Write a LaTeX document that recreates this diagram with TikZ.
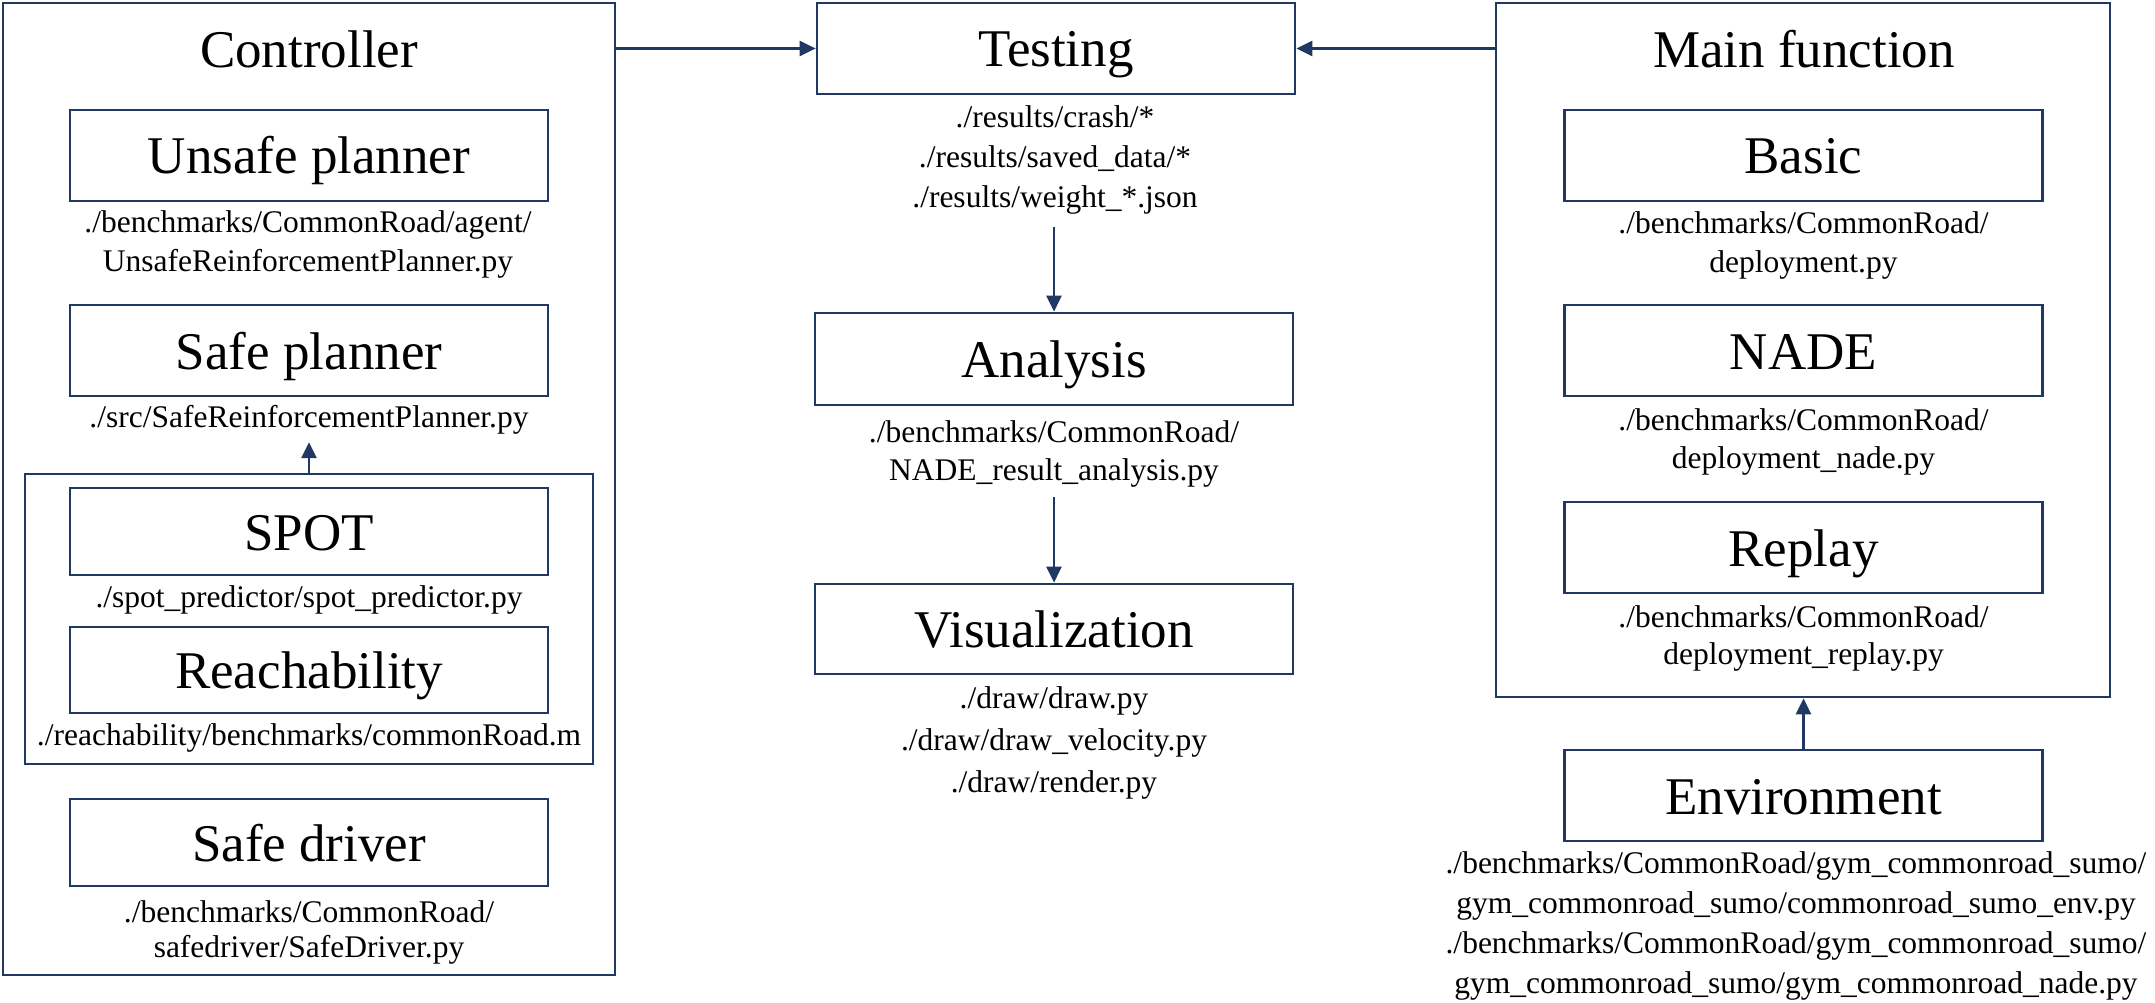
\documentclass[tikz,border=0pt]{standalone}
\usepackage{fontspec}
\setmainfont{Liberation Serif}
\usetikzlibrary{arrows.meta}
\definecolor{navy}{RGB}{32,56,100}
\newcommand\lblstrut{\rule{0pt}{24pt}}
\newcommand\pathfnt[1]{\fontsize{31.5}{#1}\selectfont}
\begin{document}
\begin{tikzpicture}[x=1pt,y=-1pt,
  outerbox/.style={draw=navy, line width=2.7pt, inner sep=0pt},
  mybox/.style={outerbox, minimum width=478pt, minimum height=91pt,
    font=\fontsize{53}{60}\selectfont, text height=37pt, text depth=0pt},
  ttl/.style={font=\fontsize{53}{60}\selectfont, anchor=base, inner sep=0pt},
  plbl/.style={font=\pathfnt{39}, align=center, anchor=north, inner sep=0pt},
  arr/.style={draw=navy, line width=2.7pt, -{Triangle[length=16pt,width=15pt]}}]
\useasboundingbox (0,0) rectangle (2155,1003);

% ---------------- Controller ----------------
\node[outerbox, minimum width=612pt, minimum height=972pt] (ctrl) at (309,489) {};
\node[ttl] (ctrlT) at (309,68) {Controller};
\node[mybox] (unsafe) at (309,155.5) {Unsafe planner};
\node[plbl] (unsafeP) at (308,208) {\lblstrut./benchmarks/CommonRoad/agent/\\UnsafeReinforcementPlanner.py};
\node[mybox] (safe) at (309,350.5) {Safe planner};
\node[plbl] (safeP) at (309,403) {\lblstrut./src/SafeReinforcementPlanner.py};
\node[outerbox, minimum width=568pt, minimum height=290pt] (grp) at (309,619) {};
\node[mybox, minimum height=87pt] (spot) at (309,531.5) {SPOT};
\node[plbl] (spotP) at (309,583) {\lblstrut./spot\_predictor/spot\_predictor.py};
\node[mybox, minimum height=86pt] (reach) at (309,670) {Reachability};
\node[plbl] (reachP) at (309,721) {\lblstrut./reachability/benchmarks/commonRoad.m};
\node[mybox, minimum height=87pt] (sdrv) at (309,842.5) {Safe driver};
\node[plbl, font=\pathfnt{35}] (sdrvP) at (309,898) {\lblstrut./benchmarks/CommonRoad/\\safedriver/SafeDriver.py};
\draw[arr, shorten >=8pt] (grp.north) -- (safeP.south);

% ---------------- Middle column ----------------
\node[mybox] (test) at (1056,48.5) {Testing};
\node[plbl, font=\pathfnt{40}] (testP) at (1055,103) {\lblstrut./results/crash/*\\./results/saved\_data/*\\./results/weight\_*.json};
\node[mybox, minimum height=92pt] (ana) at (1054,359) {Analysis};
\node[plbl, font=\pathfnt{38}] (anaP) at (1054,418) {\lblstrut./benchmarks/CommonRoad/\\NADE\_result\_analysis.py};
\node[mybox, minimum height=90pt] (vis) at (1054,629) {Visualization};
\node[plbl, font=\pathfnt{42}] (visP) at (1054,684) {\lblstrut./draw/draw.py\\./draw/draw\_velocity.py\\./draw/render.py};
\draw[arr, shorten <=13pt] (ana.north |- testP.south) -- (ana.north);
\draw[arr, shorten <=10pt] (vis.north |- anaP.south) -- (vis.north);

% ---------------- Main function ----------------
\node[outerbox, minimum width=614pt, minimum height=694pt] (main) at (1803,350) {};
\node[ttl] (mainT) at (1804,68) {Main function};
\node[mybox] (basic) at (1803.5,155.5) {Basic};
\node[plbl] (basicP) at (1803.5,209) {\lblstrut./benchmarks/CommonRoad/\\deployment.py};
\node[mybox] (nade) at (1803.5,350.5) {NADE};
\node[plbl, font=\pathfnt{38}] (nadeP) at (1803.5,406) {\lblstrut./benchmarks/CommonRoad/\\deployment\_nade.py};
\node[mybox] (replay) at (1803.5,547.5) {Replay};
\node[plbl, font=\pathfnt{37}] (replayP) at (1803.5,603) {\lblstrut./benchmarks/CommonRoad/\\deployment\_replay.py};
\node[mybox] (env) at (1803.5,795.5) {Environment};
\node[plbl, font=\pathfnt{40}] (envP) at (1796,849) {\lblstrut./benchmarks/CommonRoad/gym\_commonroad\_sumo/\\gym\_commonroad\_sumo/commonroad\_sumo\_env.py\\./benchmarks/CommonRoad/gym\_commonroad\_sumo/\\gym\_commonroad\_sumo/gym\_commonroad\_nade.py};
\draw[arr] (env.north) -- (env.north |- main.south);

% ---------------- Cross connectors ----------------
\draw[arr] (test.west -| ctrl.east) -- (test.west);
\draw[arr] (test.east -| main.west) -- (test.east);
\end{tikzpicture}
\end{document}
